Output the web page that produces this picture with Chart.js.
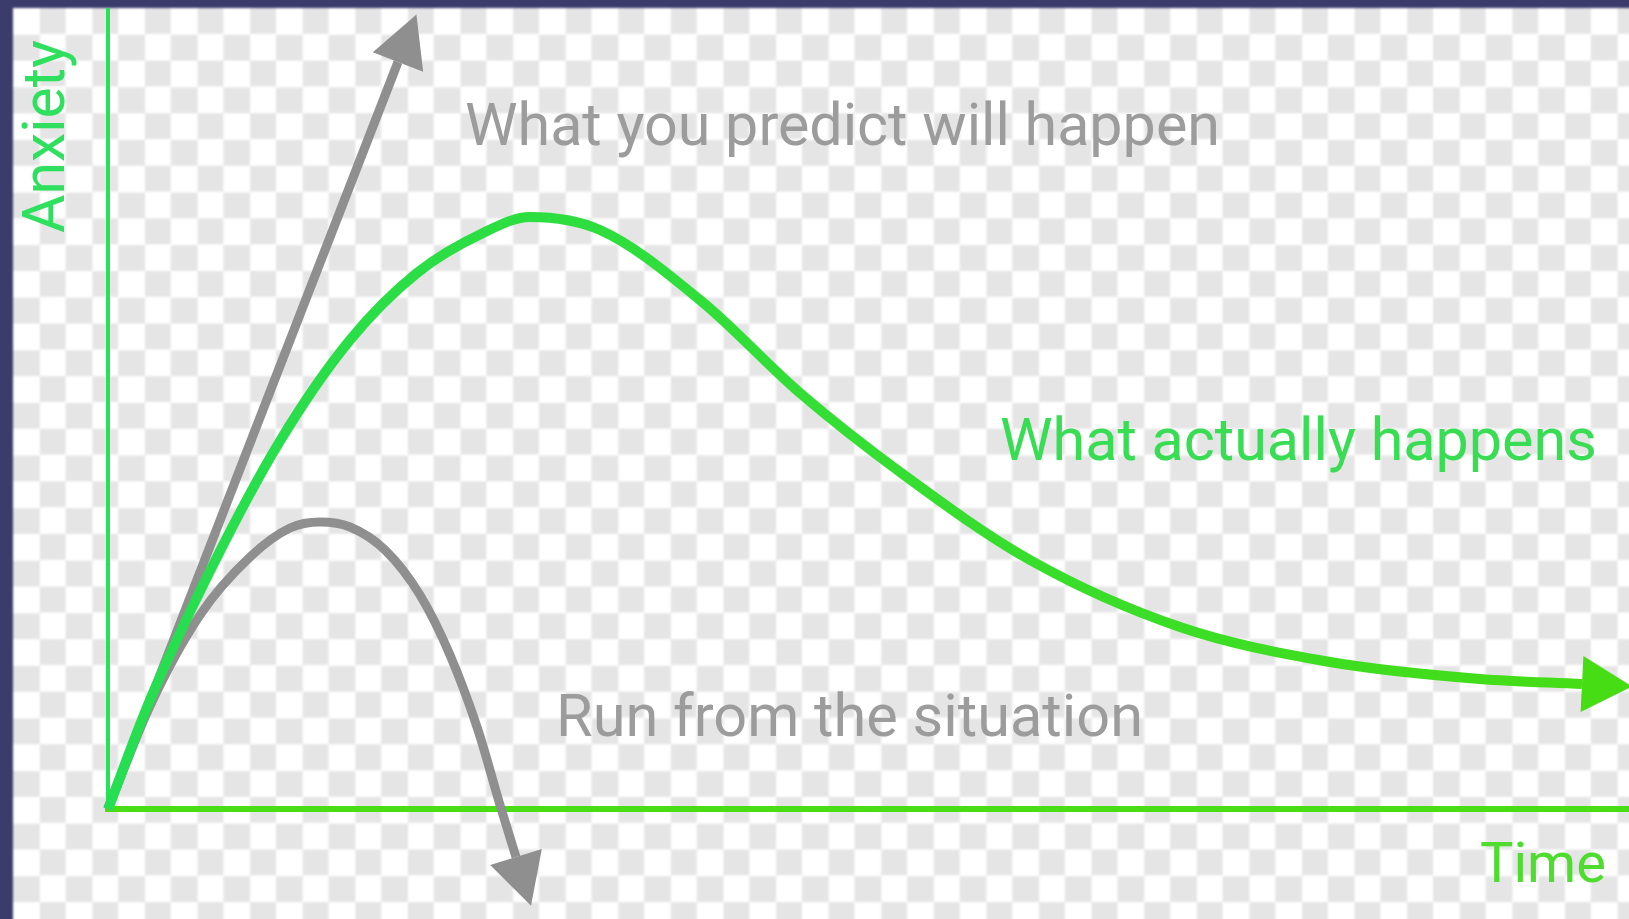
<!DOCTYPE html>
<html><head><meta charset="utf-8">
<script src="https://cdn.jsdelivr.net/npm/chart.js@4.4.1/dist/chart.umd.min.js"></script>
<style>
html,body{margin:0;padding:0;width:1629px;height:919px;overflow:hidden;background:#3c3c6c;}
#bg{position:absolute;left:13px;top:8px;right:-20px;bottom:-20px;background-color:#fff;
 background-image:conic-gradient(#e5e5e5 25%,#fff 0 50%,#e5e5e5 0 75%,#fff 0);
 background-size:52.6px 52.6px;filter:blur(0.8px);}
#wrap{position:absolute;left:0;top:0;width:1629px;height:919px;filter:blur(0.7px);}
</style></head><body>
<div id="bg"></div>
<div id="wrap"><canvas id="c" width="1629" height="919"></canvas></div>
<script>
// Axis extents (time units, anxiety units)
const timeMax = 15.21;
const anxietyMax = 8.01;

// "What actually happens"
const actualTime    = [0, 0.42, 1.05, 1.72, 2.42, 3.09, 3.75, 4.22, 4.92, 5.92, 6.92, 7.92, 9.22, 10.72, 12.22, 13.72, 14.74];
const actualAnxiety = [0, 1.09, 2.44, 3.68, 4.69, 5.36, 5.76, 5.92, 5.79, 5.09, 4.16, 3.37, 2.49, 1.82, 1.47, 1.30, 1.25];

// "What you predict will happen"
const predictTime    = [0, 2.90];
const predictAnxiety = [0, 7.47];

// "Run from the situation"
const runTime    = [0, 0.42, 0.92, 1.42, 1.82, 2.12, 2.42, 2.77, 3.12, 3.42, 3.70, 3.92, 4.08];
const runAnxiety = [0, 1.03, 1.94, 2.52, 2.81, 2.87, 2.82, 2.59, 2.14, 1.54, 0.79, 0.04, -0.48];

// Text labels
const labelPredict = "What you predict will happen";
const labelActual  = "What actually happens";
const labelRun     = "Run from the situation";
const axisX = "Time";
const axisY = "Anxiety";

function pts(xs, ys){ return xs.map((x,i)=>({x:x, y:ys[i]})); }

const GREEN_L = '#26de52', GREEN_R = '#46dd14', GRAY = '#8f8f8f';

const arrowPlugin = {
  id:'arrows',
  afterDatasetsDraw(chart){
    const ctx = chart.ctx;
    chart.data.datasets.forEach((ds,i)=>{
      if(!ds.arrow) return;
      const els = chart.getDatasetMeta(i).data;
      const b = els[els.length-1], a = els[els.length-2];
      let dx = b.x - a.x, dy = b.y - a.y;
      if (b.cp1x !== undefined && (Math.abs(b.x-b.cp1x)+Math.abs(b.y-b.cp1y))>0.5){ dx=b.x-b.cp1x; dy=b.y-b.cp1y; }
      const L = Math.hypot(dx,dy); dx/=L; dy/=L;
      const len = ds.arrow.len, w = ds.arrow.w/2;
      ctx.save();
      ctx.fillStyle = ds.arrow.color;
      ctx.beginPath();
      ctx.moveTo(b.x + dx*len, b.y + dy*len);
      ctx.lineTo(b.x - dy*w, b.y + dx*w);
      ctx.lineTo(b.x + dy*w, b.y - dx*w);
      ctx.closePath();
      ctx.fill();
      ctx.restore();
    });
  }
};

const textPlugin = {
  id:'texts',
  afterDraw(chart, args, opts){
    const ctx = chart.ctx;
    opts.items.forEach(it=>{
      ctx.save();
      ctx.font = '400 60px Roboto';
      const m = ctx.measureText(it.text).width;
      const size = 60 * it.width / m;
      ctx.font = '400 ' + size.toFixed(2) + 'px Roboto';
      ctx.fillStyle = it.color;
      ctx.textBaseline = 'alphabetic';
      ctx.textAlign = 'left';
      ctx.translate(it.x, it.y);
      if (it.rotate) ctx.rotate(it.rotate);
      ctx.fillText(it.text, 0, 0);
      ctx.restore();
    });
  }
};

function greenGradient(context){
  const chart = context.chart;
  const area = chart.chartArea;
  if(!area) return GREEN_R;
  const g = chart.ctx.createLinearGradient(area.left, 0, area.right, 0);
  g.addColorStop(0, GREEN_L);
  g.addColorStop(0.35, '#2fde3c');
  g.addColorStop(1, GREEN_R);
  return g;
}

new Chart(document.getElementById('c'), {
  type:'line',
  data:{
    datasets:[
      { label:labelActual, data:pts(actualTime, actualAnxiety), borderColor:greenGradient, borderWidth:10,
        cubicInterpolationMode:'monotone', pointRadius:0, clip:false, order:0, borderCapStyle:'butt',
        arrow:{len:50, w:56, color:GREEN_R} },
      { label:labelPredict, data:pts(predictTime, predictAnxiety), borderColor:GRAY, borderWidth:9,
        tension:0, pointRadius:0, clip:false, order:1, arrow:{len:51, w:54, color:GRAY} },
      { label:labelRun, data:pts(runTime, runAnxiety), borderColor:GRAY, borderWidth:9,
        cubicInterpolationMode:'monotone', pointRadius:0, clip:false, order:1, arrow:{len:51, w:54, color:GRAY} },
      { label:axisX, data:pts([0, timeMax],[0, 0]), borderColor:'#48dd14', borderWidth:6,
        tension:0, pointRadius:0, clip:false, order:3, borderCapStyle:'square' },
      { label:axisY, data:pts([0, 0],[0, anxietyMax]), borderColor:'#2ae05a', borderWidth:4,
        tension:0, pointRadius:0, clip:false, order:3 }
    ]
  },
  options:{
    responsive:false, animation:false, devicePixelRatio:1,
    layout:{padding:{left:108, top:8, right:0, bottom:110}},
    scales:{
      x:{type:'linear', min:0, max:timeMax, display:false},
      y:{type:'linear', min:0, max:anxietyMax, display:false}
    },
    plugins:{
      legend:{display:false}, tooltip:{enabled:false},
      texts:{items:[
        {text:labelPredict, x:465, y:145, width:755, color:'#9c9c9c'},
        {text:labelActual, x:1000, y:460, width:597, color:'#38dd54'},
        {text:labelRun, x:556, y:736, width:587, color:'#9c9c9c'},
        {text:axisX, x:1480, y:882, width:126, color:'#4edd2e'},
        {text:axisY, x:64, y:233, width:193, color:'#2ee05e', rotate:-Math.PI/2}
      ]}
    }
  },
  plugins:[arrowPlugin, textPlugin]
});
</script>
</body></html>
